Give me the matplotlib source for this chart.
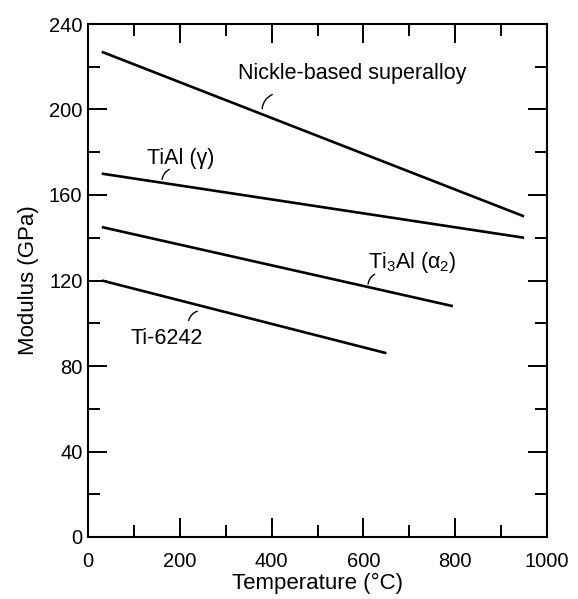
import matplotlib
matplotlib.use("Agg")
import matplotlib.pyplot as plt
from matplotlib.ticker import MultipleLocator

plt.rcParams['font.family'] = ['Liberation Sans', 'DejaVu Sans']
plt.rcParams['mathtext.fontset'] = 'custom'
plt.rcParams['mathtext.rm'] = 'Liberation Sans'
plt.rcParams['mathtext.it'] = 'Liberation Sans'

# alloy curves: (temperature in C, modulus in GPa)
nickelT = [30, 950]
nickelE = [227, 150]
tialT = [30, 950]
tialE = [170, 140]
ti3alT = [30, 795]
ti3alE = [145, 108]
ti6242T = [30, 650]
ti6242E = [120, 86]

# labels: text, text position, leader start, leader end
labels = [
    ('Nickle-based superalloy', (575, 217), (407, 207.5), (379, 199)),
    ('TiAl (γ)', (203, 177), (183, 172.5), (161, 166)),
    ('Ti$_3$Al (α$_2$)', (706, 128.5), (630, 123.5), (610, 117)),
    ('Ti-6242', (171, 93), (244, 106), (218, 100)),
]

fig = plt.figure(figsize=(5.78, 5.99), dpi=100)
ax = fig.add_axes([88 / 578, 1 - 537 / 599, (547 - 88) / 578, (537 - 24) / 599])

for T, E in [(nickelT, nickelE), (tialT, tialE), (ti3alT, ti3alE), (ti6242T, ti6242E)]:
    ax.plot(T, E, color='black', lw=1.9, solid_capstyle='butt')

for txt, pos, p0, p1 in labels:
    ax.text(pos[0], pos[1], txt, ha='center', va='center', fontsize=15.5)
    ax.annotate('', xy=p1, xytext=p0,
                arrowprops=dict(arrowstyle='-', color='black', lw=1.0,
                                connectionstyle='arc3,rad=0.35'))

ax.set_xlim(0, 1000)
ax.set_ylim(0, 240)
ax.xaxis.set_major_locator(MultipleLocator(200))
ax.xaxis.set_minor_locator(MultipleLocator(100))
ax.yaxis.set_major_locator(MultipleLocator(40))
ax.yaxis.set_minor_locator(MultipleLocator(20))
ax.tick_params(which='both', direction='in', top=True, right=True, width=1.4, labelsize=14.5)
ax.tick_params(which='major', length=14)
ax.tick_params(which='minor', length=8.5)
ax.tick_params(axis='x', which='major', pad=11)
ax.tick_params(axis='y', which='major', pad=4)
for s in ax.spines.values():
    s.set_linewidth(1.5)

ax.set_xlabel('Temperature (°C)', fontsize=16, labelpad=1)
ax.set_ylabel('Modulus (GPa)', fontsize=16, labelpad=7)

fig.savefig('out.png', dpi=100)
